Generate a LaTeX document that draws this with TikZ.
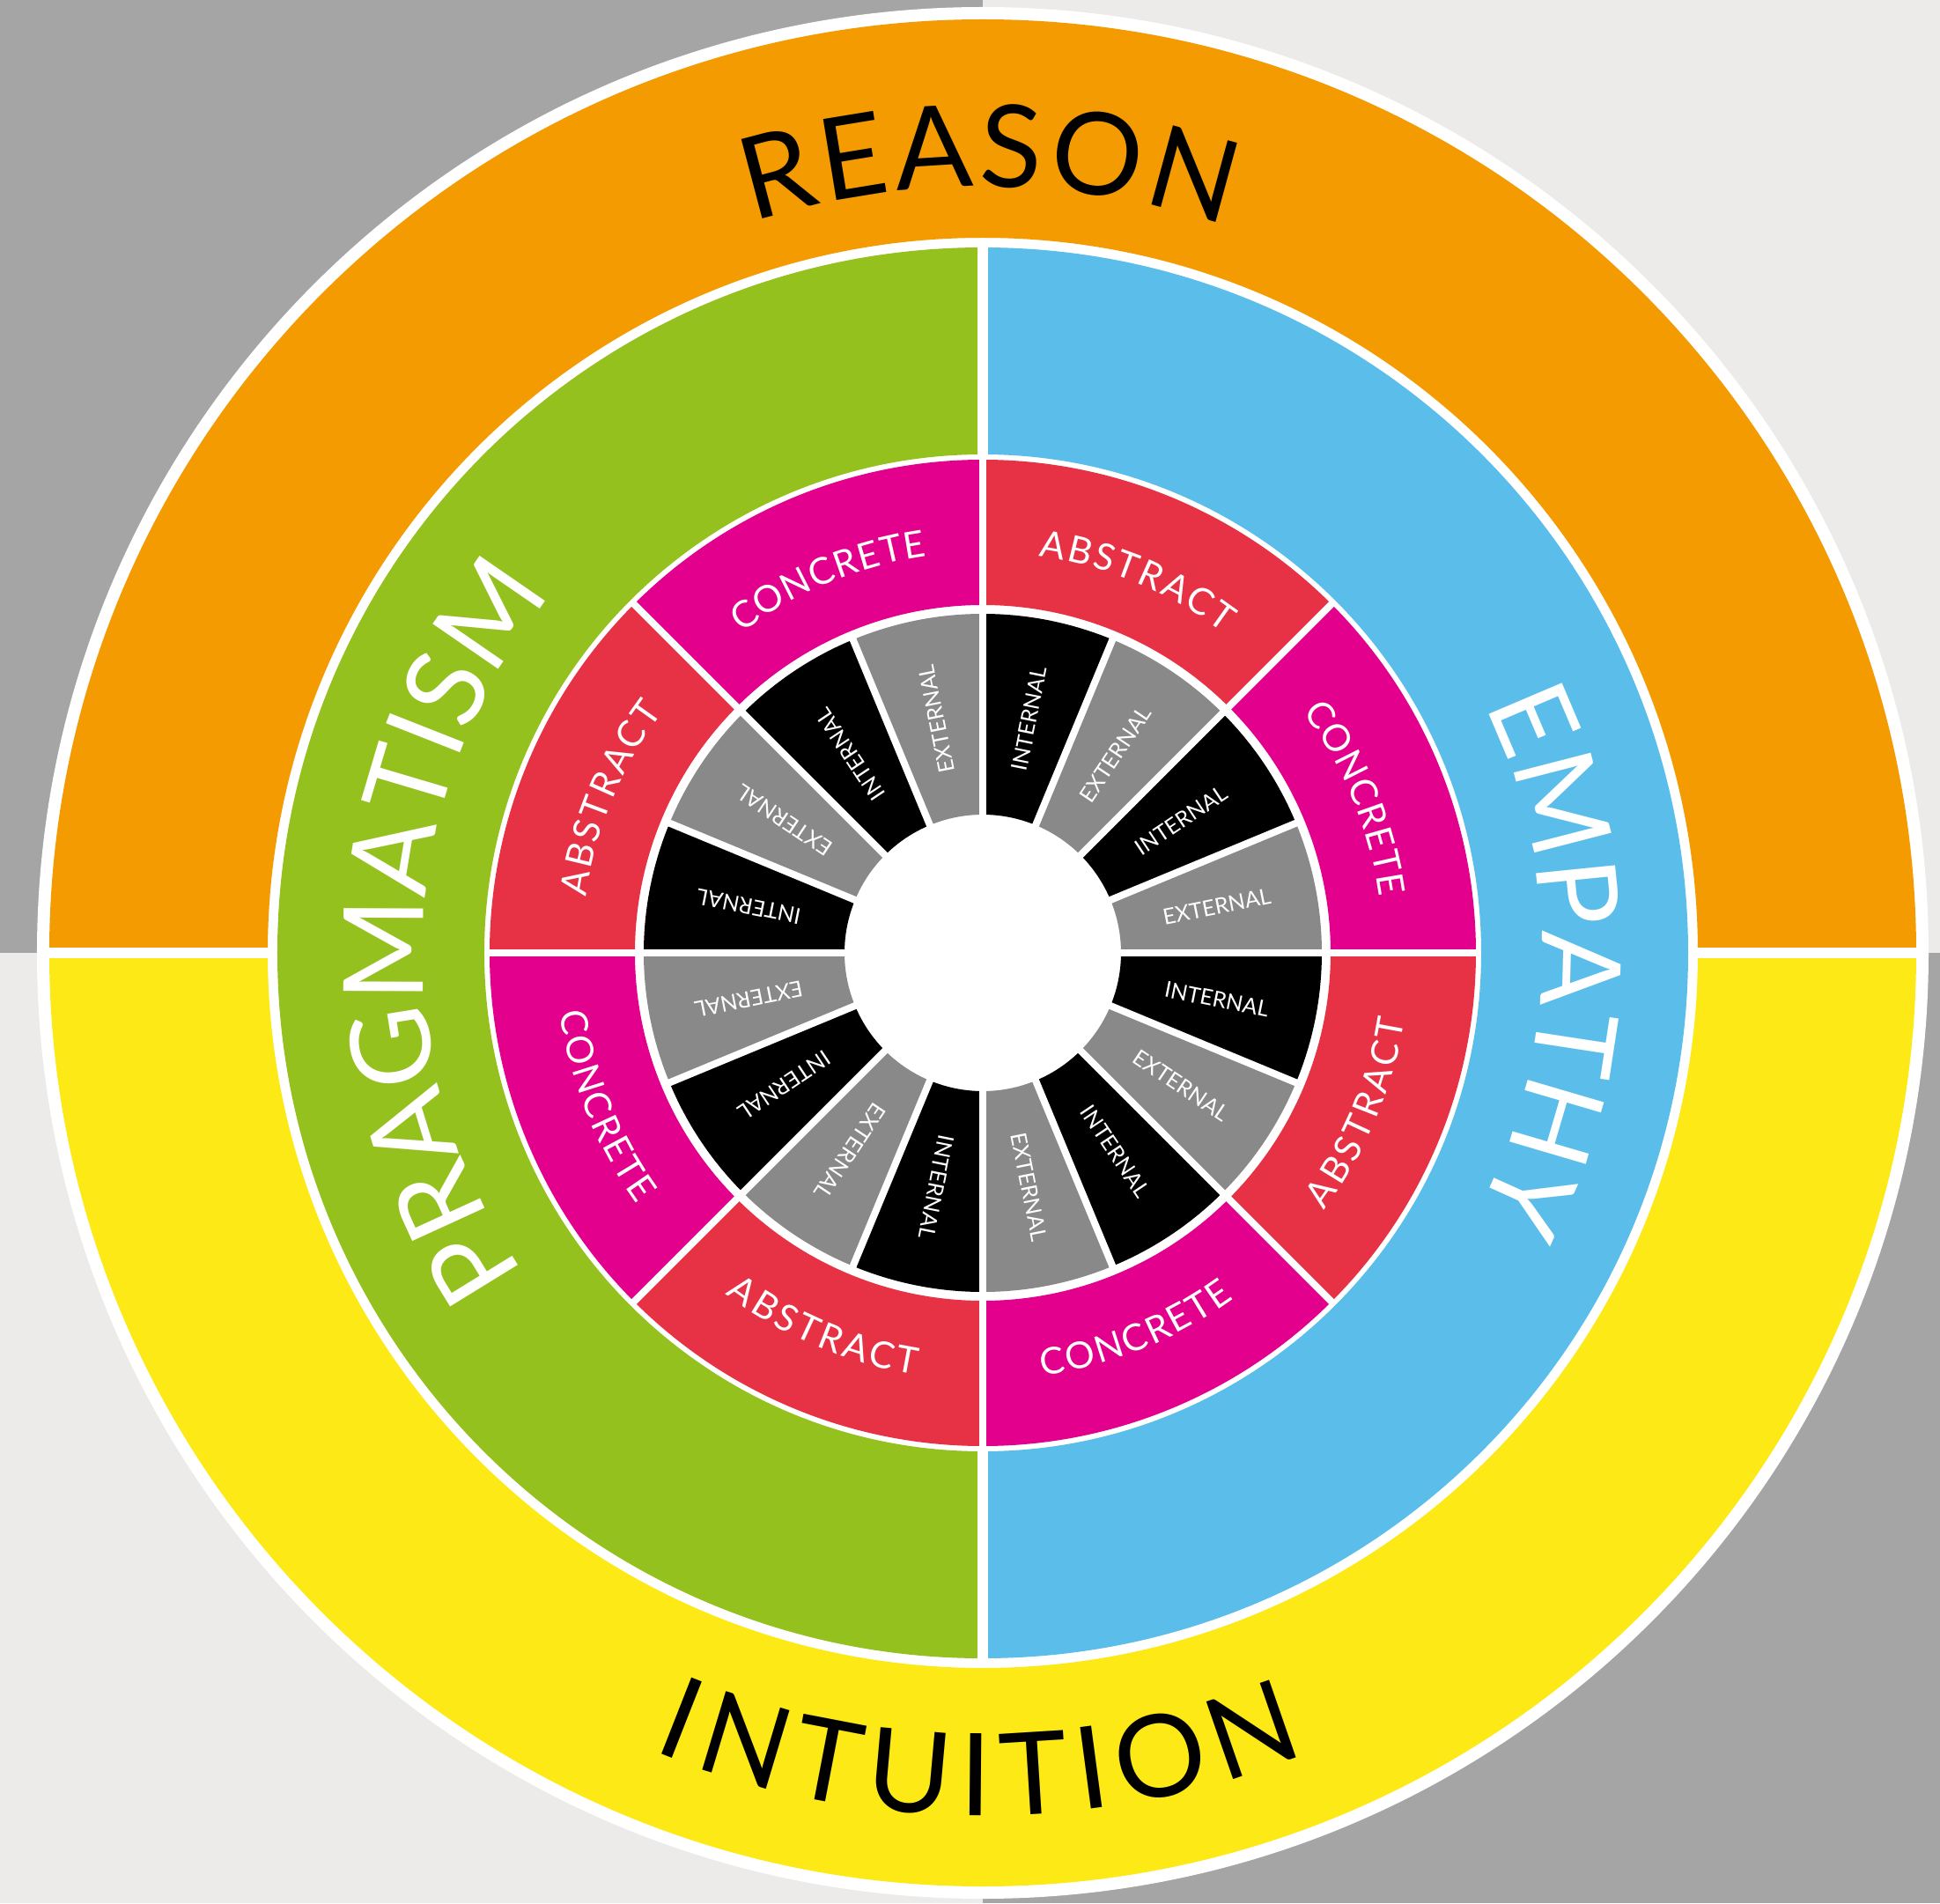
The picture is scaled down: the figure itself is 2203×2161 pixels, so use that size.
\documentclass[tikz,border=0pt]{standalone}
\usepackage{fontspec}
\setmainfont{Lato}
\usetikzlibrary{decorations.text}
\definecolor{bgdark}{HTML}{A5A5A5}
\definecolor{bglight}{HTML}{ECEBE9}
\definecolor{reasonorange}{HTML}{F39B00}
\definecolor{intuitionyellow}{HTML}{FCE915}
\definecolor{pragmagreen}{HTML}{95C11F}
\definecolor{empathyblue}{HTML}{5BBEEA}
\definecolor{concretepink}{HTML}{E2008C}
\definecolor{abstractred}{HTML}{E63244}
\definecolor{externalgray}{HTML}{898989}
\newcommand\outerfont{\fontsize{130}{130}\selectfont}
\newcommand\sidefont{\fontsize{126}{126}\selectfont}
\newcommand\wedgefont{\fontsize{42}{42}\selectfont}
\newcommand\spokefont{\fontsize{25}{25}\selectfont}
\begin{document}
\begin{tikzpicture}[x=1pt,y=1pt,
  spoke/.style={white,line width=8pt},
  arclabel/.style 2 args={decorate,decoration={text along path,text align=fit to path,text color=#1,text={#2}}},
  spoketext/.style={text=white,font=\spokefont,inner sep=0pt}]
\useasboundingbox (-1116,-1079) rectangle (1087,1082);
% background quadrants
\fill[bgdark] (-1116,0) rectangle (0,1082);
\fill[bglight] (0,0) rectangle (1087,1082);
\fill[bglight] (-1116,-1079) rectangle (0,0);
\fill[bgdark] (0,-1079) rectangle (1087,0);
\fill[white] (0,0) circle (1074);
% outer ring
\fill[reasonorange] (1060,0) arc[start angle=0,end angle=180,radius=1060] -- (-812,0) arc[start angle=180,end angle=0,radius=812] -- cycle;
\fill[intuitionyellow] (1060,0) arc[start angle=0,end angle=-180,radius=1060] -- (-812,0) arc[start angle=-180,end angle=0,radius=812] -- cycle;
\draw[spoke,line width=12pt] (-1070,0) -- (1070,0);
% second ring
\fill[pragmagreen] (0,801) arc[start angle=90,end angle=270,radius=801] -- (0,-566) arc[start angle=270,end angle=90,radius=566] -- cycle;
\fill[empathyblue] (0,801) arc[start angle=90,end angle=-90,radius=801] -- (0,-566) arc[start angle=-90,end angle=90,radius=566] -- cycle;
\draw[spoke,line width=12pt] (0,-806) -- (0,806);
% abstract / concrete
\foreach \a/\c in {0/concretepink,45/abstractred,90/concretepink,135/abstractred,180/concretepink,225/abstractred,270/concretepink,315/abstractred}
  \fill[\c] (\a:560) arc[start angle=\a,delta angle=45,radius=560] -- ({\a+45}:395) arc[start angle=\a+45,delta angle=-45,radius=395] -- cycle;
% internal / external
\foreach \a [count=\i] in {0,45,...,315} {
  \fill[externalgray] (\a:385) arc[start angle=\a,delta angle=22.5,radius=385] -- ({\a+22.5}:157) arc[start angle=\a+22.5,delta angle=-22.5,radius=157] -- cycle;
  \fill[black] ({\a+22.5}:385) arc[start angle=\a+22.5,delta angle=22.5,radius=385] -- ({\a+45}:157) arc[start angle=\a+45,delta angle=-22.5,radius=157] -- cycle;
  \node[spoketext,rotate=\a+11.25] (ext\i) at ({\a+11.25}:271) {EXTERNAL};
  \node[spoketext,rotate=\a+33.75] (int\i) at ({\a+33.75}:271) {INTERNAL};
}
\foreach \a in {0,22.5,...,337.5}
  \draw[spoke] (\a:150) -- (\a:390);
\foreach \a in {0,45,...,315}
  \draw[spoke] (\a:390) -- (\a:563);
% curved labels
\path[arclabel={black}{|\outerfont|REASON}] (107.5:870) arc[start angle=107.5,end angle=71.5,radius=870];
\path[arclabel={black}{|\outerfont|INTUITION}] (247.5:980) arc[start angle=247.5,end angle=292,radius=980];
\path[arclabel={white}{|\sidefont|PRAGMATISM}] (215:635) arc[start angle=215,end angle=142.5,radius=635];
\path[arclabel={white}{|\sidefont|EMPATHY}] (26.3:635) arc[start angle=26.3,end angle=-25.7,radius=635];
\path[arclabel={white}{|\wedgefont|CONCRETE}] (37:455) arc[start angle=37,end angle=8,radius=455];
\path[arclabel={white}{|\wedgefont|ABSTRACT}] (82:455) arc[start angle=82,end angle=53,radius=455];
\path[arclabel={white}{|\wedgefont|CONCRETE}] (127:455) arc[start angle=127,end angle=98,radius=455];
\path[arclabel={white}{|\wedgefont|ABSTRACT}] (172:455) arc[start angle=172,end angle=143,radius=455];
\path[arclabel={white}{|\wedgefont|CONCRETE}] (188:485) arc[start angle=188,end angle=216,radius=485];
\path[arclabel={white}{|\wedgefont|ABSTRACT}] (233:485) arc[start angle=233,end angle=261,radius=485];
\path[arclabel={white}{|\wedgefont|CONCRETE}] (278:485) arc[start angle=278,end angle=306,radius=485];
\path[arclabel={white}{|\wedgefont|ABSTRACT}] (323:485) arc[start angle=323,end angle=351,radius=485];
\end{tikzpicture}
\end{document}
